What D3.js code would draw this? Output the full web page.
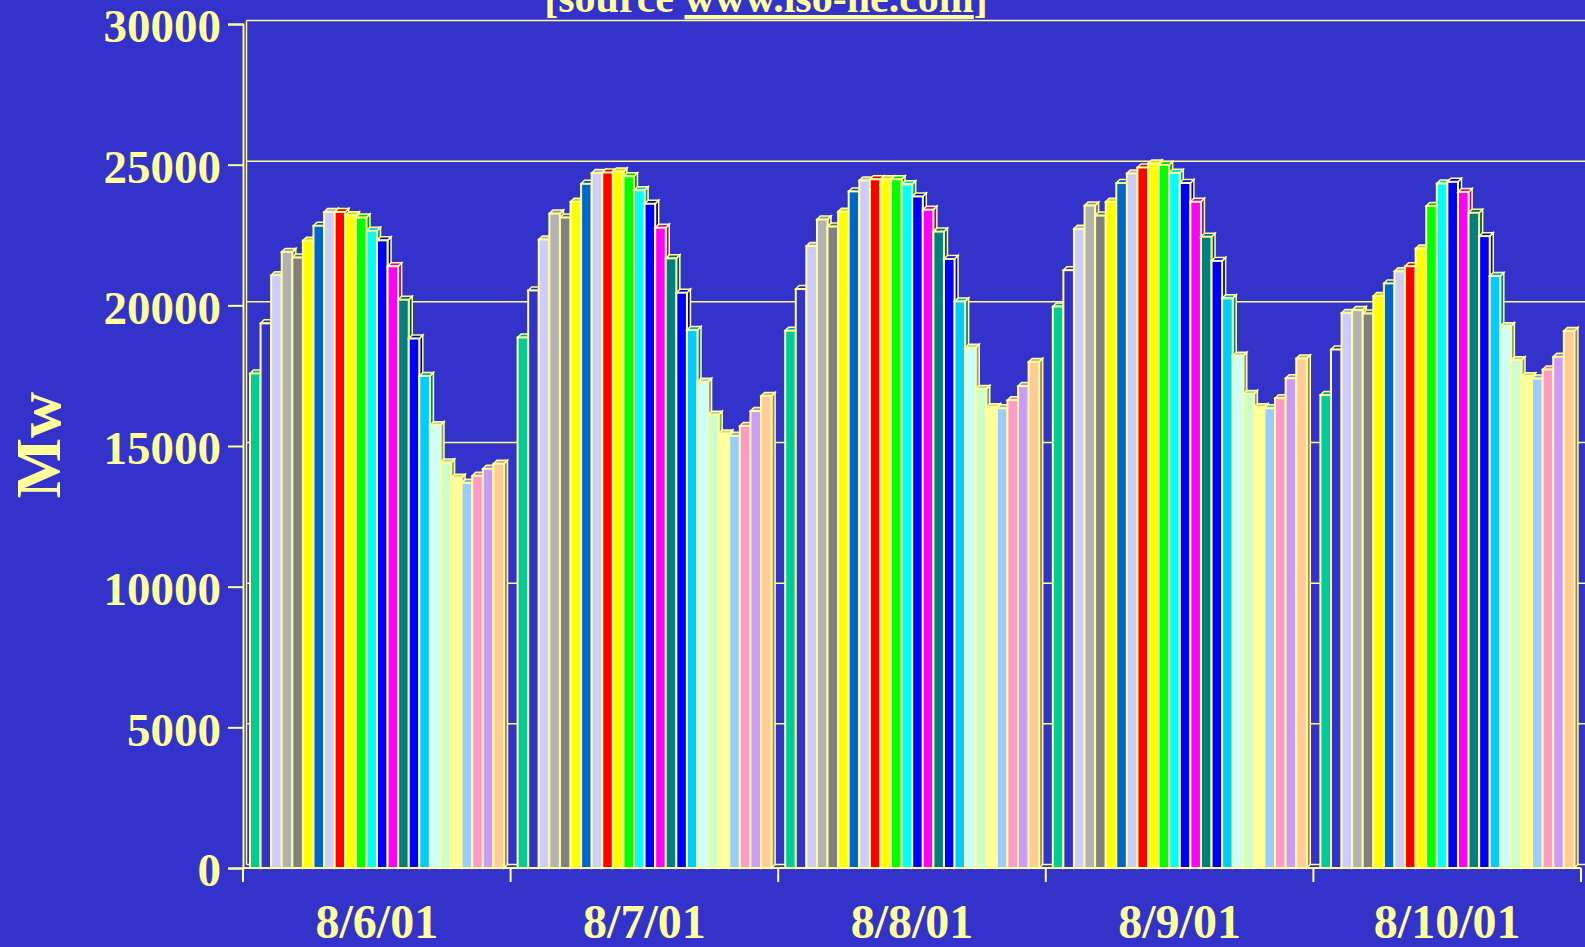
<!DOCTYPE html>
<html lang="en">
<head>
    <meta charset="UTF-8">
    <title>Mw by hour</title>
    <script src="https://d3js.org/d3.v7.min.js"></script>
    <style>
        body{
            padding:0;
            margin:0;
            background:#3333CC;
        }
        #misvg{
            display:block;
        }
        text{
            font-family:"Liberation Serif","Times New Roman",serif;
            font-weight:bold;
            fill:#FFFF99;
        }
    </style>
</head>
<body>

<svg id="misvg"></svg>

<script>
    // hourly load, one array per day
    let days = ["8/6/01", "8/7/01", "8/8/01", "8/9/01", "8/10/01"]
    let load0806 = [17580,19360,21070,21900,21700,22300,22830,23320,23320,23200,23120,22650,22310,21390,20200,18820,17490,15740,14410,13870,13690,13940,14190,14370]
    let load0807 = [18860,20530,22340,23260,23120,23680,24320,24700,24720,24760,24590,24090,23610,22760,21670,20450,19120,17280,16110,15440,15360,15710,16240,16780]
    let load0808 = [19100,20580,22110,23050,22800,23330,24050,24440,24480,24480,24480,24300,23870,23400,22620,21650,20140,18490,17030,16380,16340,16630,17130,17990]
    let load0809 = [19960,21250,22720,23550,23190,23680,24350,24690,24900,25040,24990,24710,24350,23680,22440,21580,20250,18210,16850,16380,16340,16700,17410,18110]
    let load0810 = [16810,18430,19730,19830,19710,20330,20780,21210,21390,22020,23530,24330,24390,24030,23290,22460,21040,19260,18050,17480,17400,17720,18170,19090]
    let loads = [load0806, load0807, load0808, load0809, load0810]

    let hourColors = ["#00CC99","#3333CC","#CCCCFF","#B2B2B2","#808080","#FFFF00","#0066CC","#CCCCFF",
                      "#FF0000","#FFFF00","#00FF00","#00FFFF","#0000FF","#FF00FF","#008080","#0000FF",
                      "#00CCFF","#CCFFFF","#CCFFCC","#FFFF99","#99CCFF","#FF99CC","#CC99FF","#FFCC99"]
    let yTicks = [0, 5000, 10000, 15000, 20000, 25000, 30000]

    let svgw = 1585
    let svgh = 947
    let izq = 243, der = 1581, sup = 24, inf = 868
    let prof = 3.5   // depth of the 3d effect
    let amarillo = "#FFFF99"

    let svg = d3.select("#misvg")
            .attr('width', svgw)
            .attr('height', svgh)

    let escalaY = d3.scaleLinear()
                    .domain([0, 30000])
                    .range([inf, sup])

    let escalaDia = d3.scaleBand()
                    .domain(days)
                    .range([izq, der])

    let escalaHora = d3.scaleBand()
                    .domain(d3.range(24))
                    .range([7, 261])

    // back wall grid lines
    svg.append('g')
        .selectAll('line')
        .data(yTicks.slice(1))
        .enter().append('line')
        .attr('x1', izq + prof)
        .attr('x2', svgw)
        .attr('y1', d => escalaY(d) - prof)
        .attr('y2', d => escalaY(d) - prof)
        .attr('stroke', amarillo)
        .attr('stroke-width', 1.5)

    // back floor edge and left wall edge
    svg.append('line')
        .attr('x1', izq + prof).attr('x2', svgw)
        .attr('y1', inf - prof).attr('y2', inf - prof)
        .attr('stroke', amarillo).attr('stroke-width', 1.5)
    svg.append('line')
        .attr('x1', izq + prof).attr('x2', izq + prof)
        .attr('y1', sup - prof).attr('y2', inf - prof)
        .attr('stroke', amarillo).attr('stroke-width', 1.5)

    // bars
    let barras = []
    days.forEach((dia, i) => {
        loads[i].forEach((v, h) => barras.push({dia: dia, hora: h, valor: v}))
    })

    let w = escalaHora.bandwidth()
    let g = svg.append('g')
        .selectAll('g')
        .data(barras)
        .enter().append('g')
        .attr('transform', d => `translate(${escalaDia(d.dia) + escalaHora(d.hora)},0)`)

    g.append('polygon')
        .attr('points', d => {
            let yv = escalaY(d.valor)
            return [[w, inf], [w + prof, inf - prof], [w + prof, yv - prof], [w, yv]].join(' ')
        })
        .attr('fill', d => d3.color(hourColors[d.hora]).darker(1.3))
        .attr('stroke', amarillo)
        .attr('stroke-width', 1.5)

    g.append('polygon')
        .attr('points', d => {
            let yv = escalaY(d.valor)
            return [[0, yv], [prof, yv - prof], [w + prof, yv - prof], [w, yv]].join(' ')
        })
        .attr('fill', d => d3.color(hourColors[d.hora]).darker(0.5))
        .attr('stroke', amarillo)
        .attr('stroke-width', 1.5)

    g.append('rect')
        .attr('x', 0)
        .attr('y', d => escalaY(d.valor))
        .attr('width', w)
        .attr('height', d => inf - escalaY(d.valor))
        .attr('fill', d => hourColors[d.hora])
        .attr('stroke', amarillo)
        .attr('stroke-width', 2)

    // y axis
    let ejeY = svg.append('g')
        .attr('transform', `translate(${izq},0)`)
        .call(d3.axisLeft(escalaY).tickValues(yTicks).tickFormat(d3.format('d')).tickSize(15).tickPadding(7))
    ejeY.select('.domain').attr('stroke', amarillo).attr('stroke-width', 2)
    ejeY.selectAll('.tick line').attr('stroke', amarillo).attr('stroke-width', 2)
    ejeY.selectAll('.tick text')
        .attr('font-size', 47)
        .attr('dy', '0.38em')
        .attr('fill', amarillo)
        .attr('font-family', '"Liberation Serif","Times New Roman",serif')

    // x axis
    svg.append('line')
        .attr('x1', izq).attr('x2', der)
        .attr('y1', inf).attr('y2', inf)
        .attr('stroke', amarillo).attr('stroke-width', 2)

    let bordes = days.map(d => escalaDia(d)).concat([der])
    svg.append('g')
        .selectAll('line')
        .data(bordes)
        .enter().append('line')
        .attr('x1', d => d).attr('x2', d => d)
        .attr('y1', inf).attr('y2', inf + 14)
        .attr('stroke', amarillo).attr('stroke-width', 2)

    svg.append('g')
        .selectAll('text')
        .data(days)
        .enter().append('text')
        .attr('x', d => escalaDia(d) + escalaDia.bandwidth() / 2)
        .attr('y', 938)
        .attr('text-anchor', 'middle')
        .attr('font-size', 48)
        .text(d => d)

    // axis title
    svg.append('text')
        .attr('transform', 'translate(60,445) rotate(-90)')
        .attr('text-anchor', 'middle')
        .attr('font-size', 64)
        .text('Mw')

    // source line, cut at the top
    let titulo = svg.append('text')
        .attr('x', 766)
        .attr('y', 12)
        .attr('text-anchor', 'middle')
        .attr('font-size', 42)
    titulo.append('tspan').text('[source ')
    titulo.append('tspan').attr('text-decoration', 'underline').text('www.iso-ne.com')
    titulo.append('tspan').text(']')
</script>

</body>
</html>
